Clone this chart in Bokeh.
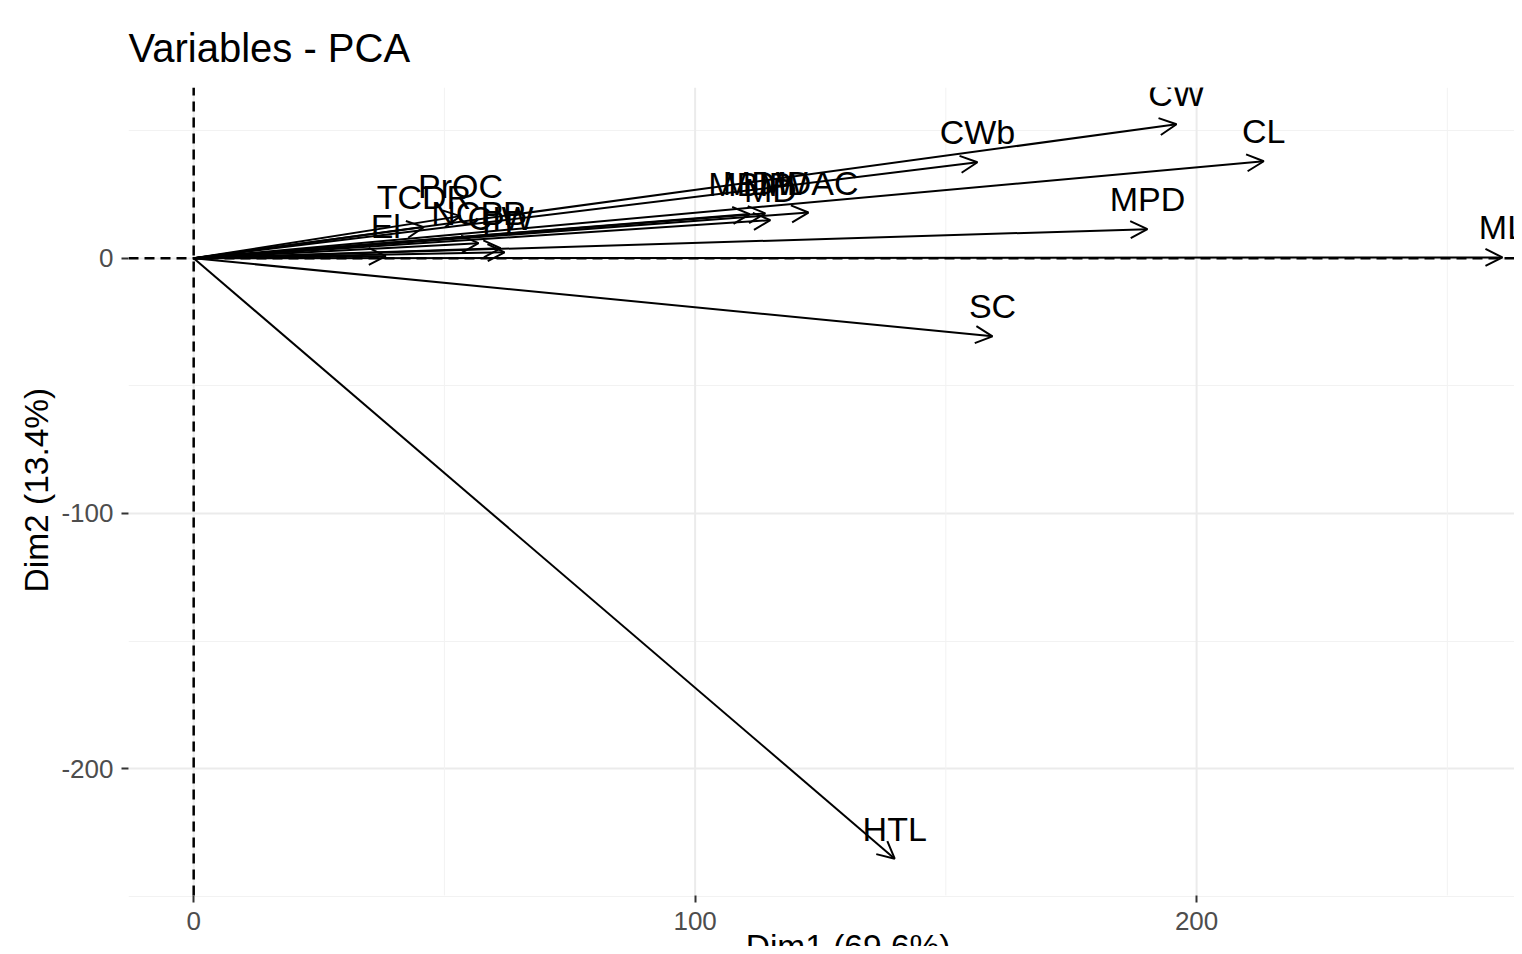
from bokeh.plotting import figure
from bokeh.models import Arrow, OpenHead, Span, FixedTicker, ColumnDataSource, Title
from bokeh.core.properties import value
from bokeh.embed import file_html
from bokeh.resources import INLINE

# variable names and coordinates (Dim1, Dim2)
names = ["ML", "CW", "CL", "CWb", "MPD", "SC", "HTL",
         "MBIP", "MDW", "MDAC", "MD",
         "PrOC", "TCDR", "NCPP", "CIW", "El", "PP"]
dim1 = [261.0, 196.0, 213.4, 156.3, 190.2, 159.3, 139.8,
        110.9, 114.0, 122.6, 115.0,
        53.2, 45.9, 56.8, 61.2, 38.3, 62.0]
dim2 = [0.3, 52.5, 38.0, 37.6, 11.4, -30.6, -235.3,
        17.3, 17.6, 17.9, 14.9,
        16.5, 12.2, 5.9, 3.9, 0.8, 2.3]

x_ticks = [0, 100, 200]
y_ticks = [-200, -100, 0]
x_minor = [50, 150, 250]
y_minor = [-250, -150, -50, 50]
x_title = "Dim1 (69.6%)"
y_title = "Dim2 (13.4%)"

# panel limits (data units)
X0, X1 = -13.0, 263.4
Y0, Y1 = -249.7, 66.9
Y_CANVAS_BOTTOM = -269.7   # frame is extended to the canvas bottom

FONT = "Liberation Sans"

p = figure(width=1514, height=946, output_backend="svg", toolbar_location=None,
           x_range=(X0, X1), y_range=(Y_CANVAS_BOTTOM, Y1),
           min_border_left=128, min_border_right=0, min_border_top=87,
           min_border_bottom=0, title="Variables - PCA")
p.outline_line_color = None
p.background_fill_color = "white"
p.border_fill_color = "white"

p.title.text_font = FONT
p.title.text_font_size = "40px"
p.title.text_font_style = "normal"
p.title.text_color = "black"
p.title.standoff = 35
p.title.offset = 0

for ax in (p.xaxis[0], p.yaxis[0]):
    ax.axis_line_color = None
    ax.major_tick_line_color = "#333333"
    ax.major_tick_line_width = 2
    ax.major_tick_out = 7
    ax.major_tick_in = 0
    ax.minor_tick_line_color = None
    ax.major_label_text_font = FONT
    ax.major_label_text_font_size = "26px"
    ax.major_label_text_color = "#4D4D4D"
    ax.major_label_standoff = 8
p.xaxis.major_label_standoff = 10
p.xaxis.fixed_location = Y0

p.xaxis.ticker = FixedTicker(ticks=x_ticks, minor_ticks=x_minor)
p.yaxis.ticker = FixedTicker(ticks=y_ticks, minor_ticks=y_minor)
p.yaxis.major_label_overrides = {t: str(t) for t in y_ticks}

# y axis title, placed at the centre of the panel (not of the extended frame)
p.add_layout(Title(text=y_title, align="left", offset=354, standoff=8,
                   text_font=FONT, text_font_size="33.5px",
                   text_font_style="normal", text_color="black"), "left")

# horizontal grid from Bokeh, vertical grid drawn within the panel only
p.xgrid.visible = False
p.ygrid.grid_line_color = "#EBEBEB"
p.ygrid.grid_line_width = 2
p.ygrid.minor_grid_line_color = "#F2F2F2"
p.ygrid.minor_grid_line_width = 1
p.segment(x0=x_minor, x1=x_minor, y0=[Y0] * 3, y1=[Y1] * 3,
          line_color="#F2F2F2", line_width=1)
p.segment(x0=x_ticks, x1=x_ticks, y0=[Y0] * 3, y1=[Y1] * 3,
          line_color="#EBEBEB", line_width=2)

# dashed reference lines
p.segment(x0=[0], x1=[0], y0=[Y0], y1=[Y1], line_color="black",
          line_dash="10 6", line_width=2.5)
p.add_layout(Span(location=0, dimension="width", line_color="black",
                  line_dash="10 6", line_width=2.5))

# arrows
src = ColumnDataSource(dict(x0=[0] * len(names), y0=[0] * len(names),
                            x1=dim1, y1=dim2, name=names))
p.add_layout(Arrow(end=OpenHead(size=17, line_width=2, line_color="black"),
                   x_start="x0", y_start="y0", x_end="x1", y_end="y1",
                   line_width=2, line_color="black", source=src))

p.text(x="x1", y="y1", text="name", source=src,
       text_font=value(FONT), text_font_size="34px", text_color="black",
       text_align="center", text_baseline="middle", y_offset=-30)

# x axis title (cropped at the bottom of the picture, as in the reference)
p.text(x=[(X0 + 274.0) / 2], y=[-262.3], text=[x_title],
       text_font=value(FONT), text_font_size="33.5px", text_color="black",
       text_align="center", text_baseline="top")

open("out.html", "w").write(file_html(p, INLINE))
